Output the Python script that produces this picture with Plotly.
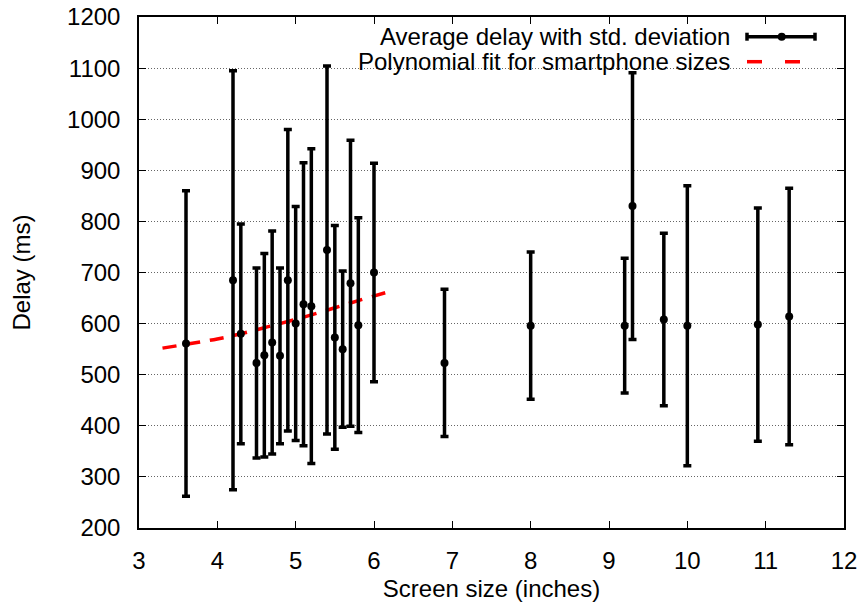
import plotly.graph_objects as go

# Data
screen_size = [3.6, 4.2, 4.3, 4.5, 4.6, 4.7, 4.8, 4.9, 5.0, 5.1, 5.2, 5.4, 5.5, 5.6, 5.7, 5.8, 6.0,
               6.9, 8.0, 9.2, 9.3, 9.7, 10.0, 10.9, 11.3]
avg_delay = [561, 685, 580, 523, 538, 563, 537, 685, 600, 638, 634, 744, 573, 550, 679, 597, 700,
             523, 596, 596, 830, 608, 596, 598, 614]
std_dev = [299, 410, 215, 186, 199, 218, 172, 295, 229, 277, 308, 360, 219, 153, 280, 210, 214,
           144, 144, 132, 261, 169, 274, 228, 251]

fit_x = [3.3, 3.7, 4.0, 4.3, 4.6, 4.9, 5.2, 5.5, 5.8, 6.2]
fit_y = [552, 562, 570, 580, 592, 604, 617, 631, 645, 663]

x_ticks = [3, 4, 5, 6, 7, 8, 9, 10, 11, 12]
y_ticks = [200, 300, 400, 500, 600, 700, 800, 900, 1000, 1100, 1200]

legend_labels = ["Average delay with std. deviation", "Polynomial fit for smartphone sizes"]

FONT = "Liberation Sans, Arial, Helvetica, sans-serif"
FS = 24

fig = go.Figure()

fig.add_trace(go.Scatter(
    x=fit_x, y=fit_y, mode="lines",
    line=dict(color="#ff0000", width=3.5, dash="14px,10px", shape="spline"),
    showlegend=False, hoverinfo="skip"))

fig.add_trace(go.Scatter(
    x=screen_size, y=avg_delay, mode="markers",
    marker=dict(color="black", size=8),
    error_y=dict(type="data", array=std_dev, visible=True, color="black",
                 thickness=3.5, width=4),
    showlegend=False))

# plot area in px: x 139..844, y 17..528
L, R, T, B = 139, 844, 17, 528
def px(xp):
    return (xp - L) / (R - L)
def py(yp):
    return (B - yp) / (B - T)

shapes = []
# key background box (covers gridlines)
shapes.append(dict(type="rect", xref="paper", yref="paper", layer="between",
                   x0=px(217), x1=px(831), y0=py(76), y1=py(19),
                   fillcolor="white", line=dict(width=0)))
# key sample 1: error bar
y1 = py(36.7)
shapes.append(dict(type="line", xref="paper", yref="paper", x0=px(747), x1=px(815), y0=y1, y1=y1,
                   line=dict(color="black", width=3.5)))
for xe in (747, 815):
    shapes.append(dict(type="line", xref="paper", yref="paper", x0=px(xe), x1=px(xe),
                       y0=py(32.7), y1=py(40.7), line=dict(color="black", width=3.5)))
shapes.append(dict(type="circle", xref="paper", yref="paper",
                   x0=px(781.7 - 4), x1=px(781.7 + 4), y0=py(36.7 + 4), y1=py(36.7 - 4),
                   fillcolor="black", line=dict(width=0)))
# key sample 2: red dashed
y2 = py(61.7)
shapes.append(dict(type="line", xref="paper", yref="paper", x0=px(747), x1=px(812), y0=y2, y1=y2,
                   line=dict(color="#ff0000", width=3.5, dash="15px,23px")))

annotations = [
    dict(xref="paper", yref="paper", x=px(732), y=y1, text=legend_labels[0], showarrow=False,
         xanchor="right", yanchor="middle", font=dict(family=FONT, size=FS, color="black")),
    dict(xref="paper", yref="paper", x=px(732), y=y2, text=legend_labels[1], showarrow=False,
         xanchor="right", yanchor="middle", font=dict(family=FONT, size=FS, color="black")),
]

fig.update_layout(
    width=865, height=605,
    margin=dict(l=L, r=865 - R, t=T, b=605 - B, autoexpand=False),
    paper_bgcolor="white", plot_bgcolor="white",
    font=dict(family=FONT, size=FS, color="black"),
    shapes=shapes, annotations=annotations,
    showlegend=False,
    xaxis=dict(
        range=[3, 12], tickvals=x_ticks, ticktext=[str(v) for v in x_ticks],
        ticks="inside", ticklen=7, tickwidth=1, tickcolor="black",
        showline=True, linecolor="black", linewidth=1.5, mirror="ticks",
        showgrid=False, zeroline=False, ticklabelstandoff=10,
        title=dict(text="Screen size (inches)", standoff=8, font=dict(family=FONT, size=FS)),
    ),
    yaxis=dict(
        range=[200, 1200], tickvals=y_ticks, ticktext=[str(v) for v in y_ticks],
        ticks="inside", ticklen=7, tickwidth=1, tickcolor="black",
        showline=True, linecolor="black", linewidth=1.5, mirror="ticks",
        showgrid=True, gridcolor="#666666", gridwidth=1, griddash="1px,2px",
        zeroline=False, ticklabelstandoff=12,
        title=dict(text="Delay (ms)", standoff=30, font=dict(family=FONT, size=FS)),
    ),
)

fig.write_html("out.html")
